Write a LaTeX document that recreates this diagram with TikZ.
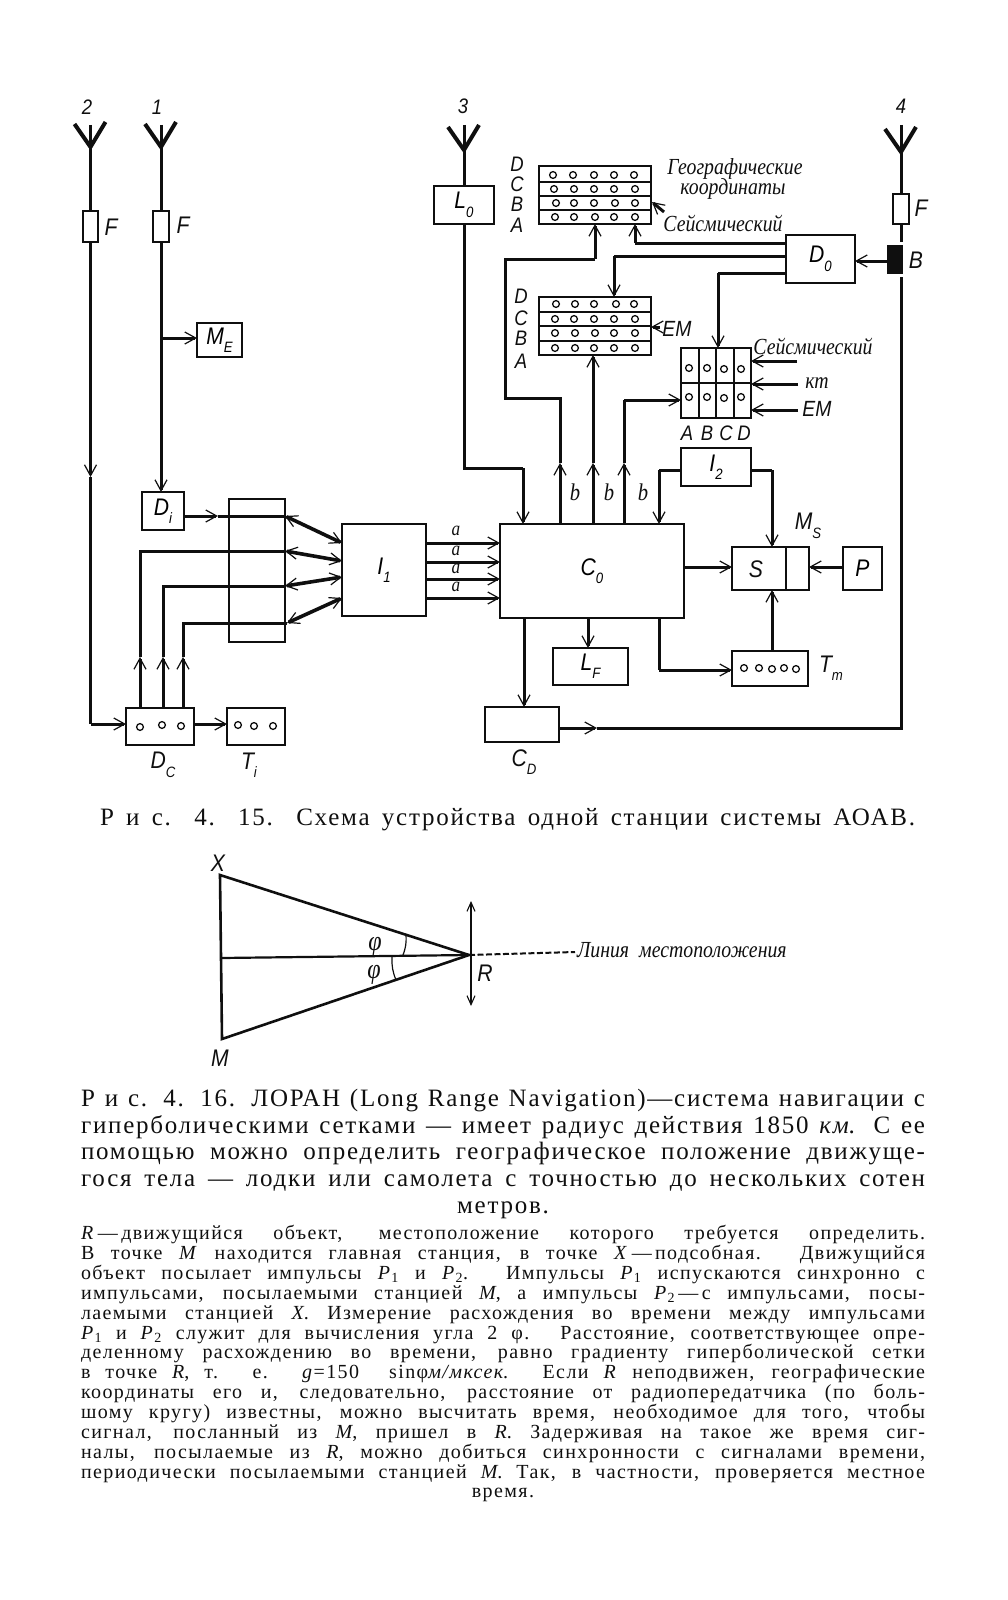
\documentclass[tikz,border=0pt]{standalone}
\usepackage{fontspec}
\setmainfont{Liberation Serif}
\newfontfamily\capfont[LetterSpace=7]{Liberation Serif}
\newfontfamily\lat[FakeStretch=0.88]{Liberation Sans}
\newfontfamily\cyr[FakeStretch=0.86]{Liberation Serif}
\usetikzlibrary{arrows.meta,calc}
\newcommand{\bx}[7][]{%
  \pgfmathsetmacro\cxx{(#3+#5)/2}\pgfmathsetmacro\cyy{(#4+#6)/2}%
  \pgfmathsetmacro\www{#5-#3}\pgfmathsetmacro\hhh{#6-#4}%
  \node[bxs,minimum width=\www pt,minimum height=\hhh pt,#1] (#2) at (\cxx,\cyy) {#7};}
\newcommand{\lbl}[5][]{\node[lab,#1] (#2) at (#3,#4) {#5};}
\newcommand{\sbs}[1]{\raisebox{-.35em}{\fontsize{15}{15}\selectfont #1}}
\newcommand{\antenna}[3]{%
  \coordinate (#1) at (#2,#3);
  \draw[wire] (#2,125) -- (#1);
  \draw[antw] ($(#1)+(-16,-23)$) -- (#1) -- ($(#1)+(15,-25)$);}
\newcommand{\jl}[1]{\hbox to \hsize{#1}}
\tikzset{
  bxs/.style={draw=ink,line width=2pt,inner sep=0pt,outer sep=0pt,fill=none,font=\lat\itshape\fontsize{24}{24}\selectfont},
  lab/.style={inner sep=0pt,outer sep=0pt,text=ink,font=\lat\itshape\fontsize{24}{24}\selectfont},
  cyrl/.style={font=\cyr\itshape\fontsize{23}{24}\selectfont},
  wire/.style={draw=ink,line width=3pt,line cap=butt,line join=miter},
  antw/.style={draw=ink,line width=4pt,line join=miter},
  thinl/.style={draw=ink,line width=1.7pt},
  tipa/.style={-{Straight Barb[length=11pt,width=12pt,line width=1.2pt]}},
  tipb/.style={{Straight Barb[length=11pt,width=12pt,line width=1.2pt]}-{Straight Barb[length=11pt,width=12pt,line width=1.2pt]}},
  dot/.style={draw=ink,line width=1.3pt},
  bodya/.style={anchor=north west,inner sep=0pt,outer sep=0pt,text=ink},
}
\definecolor{ink}{gray}{0.06}
\begin{document}
\begin{tikzpicture}[x=1pt,y=-1pt]
\useasboundingbox (0,0) rectangle (1007,1600);
% --- boxes
\bx{f2}{83}{211}{98}{242}{}
\bx{f1}{153}{211}{169}{242}{}
\bx{lo}{434}{186}{494}{224}{L\sbs{0}}
\bx{f4}{893}{194}{909}{224}{}
\bx{me}{197}{323}{242}{357}{M\sbs{E}}
\bx{di}{142}{492}{184}{530}{D\sbs{i}}
\bx{mx}{229}{499}{285}{642}{}
\bx{ione}{342}{524}{426}{616}{I\sbs{1}}
\bx{co}{500}{524}{684}{618}{C\sbs{0}}
\bx{itwo}{681}{448}{751}{486}{I\sbs{2}}
\bx{ss}{732}{547}{809}{590}{}
\bx{pp}{843}{547}{882}{590}{P}
\bx{tm}{732}{651}{808}{686}{}
\bx{lf}{553}{648}{628}{685}{L\sbs{F}}
\bx{cd}{485}{707}{559}{742}{}
\bx{dc}{126}{708}{194}{745}{}
\bx{ti}{227}{708}{285}{745}{}
\bx{dz}{786}{235}{855}{283}{D\sbs{0}}
\bx{tg}{539}{166}{651}{224}{}
\bx{te}{539}{297}{651}{355}{}
\bx{ts}{681}{348}{751}{418}{}
\bx[fill=ink]{bb}{888}{246}{902}{273}{}
% --- box interiors
\draw[thinl] (539,182)--(651,182) (539,196)--(651,196) (539,210)--(651,210);
\draw[thinl] (539,312)--(651,312) (539,326)--(651,326) (539,341)--(651,341);
\draw[thinl] (681,383)--(751,383) (699,348)--(699,418) (716,348)--(716,418) (734,348)--(734,418);
\draw[thinl] (786,547)--(786,590);
\foreach \yy/\ll in {175/{553,573,594,614,634},189/{554,574,594,614,635},203/{556,574,594,615,635},217/{555,574,595,614,635},
  304/{556,575,594,616,634},319/{555,574,594,614,635},333/{555,575,595,614,635},348/{555,575,594,614,635}}
  \foreach \xx in \ll \draw[dot] (\xx,\yy) circle (3.4);
\foreach \xx/\yy in {689/368,707/368,724/369,741/369,689/397,707/397,724/398,741/397,744/668,759/668,772/669,784/668,796/669,140/727,162/725,181/726,238/725,254/726,273/726}
  \draw[dot] (\xx,\yy) circle (3.4);
% --- antennas
\antenna{aa}{90.5}{147}
\antenna{ab}{161}{147}
\antenna{ac}{464}{150}
\antenna{ad}{901}{152}
% --- route coordinates
\coordinate (q1) at (90.5,477);
\coordinate (q2) at (90.5,724);
\coordinate (q3) at (161,338);
\coordinate (q4) at (464,468);
\coordinate (q5) at (523,468);
\coordinate (x2) at (140,0);
\coordinate (x3) at (163,0);
\coordinate (x4) at (183,0);
\coordinate (yb) at (0,657);
\coordinate (mxa) at (285,516);
\coordinate (mxb) at (285,551);
\coordinate (mxc) at (285,586);
\coordinate (mxd) at (287,623);
\coordinate (ia) at (342,543);
\coordinate (ib) at (342,561);
\coordinate (ic) at (342,577);
\coordinate (id) at (342,598);
\coordinate (xb1) at (560,0);
\coordinate (xb2) at (593,0);
\coordinate (xb3) at (624,0);
\coordinate (yt) at (0,463);
% --- left part
\draw[wire] (aa) -- (f2.north);
\draw[wire] (ab) -- (f1.north);
\draw[wire,tipa] (f2.south) -- (q1);
\draw[wire] (q1) -- (q2);
\draw[wire,tipa] (q2) -- (dc.west |- q2);
\draw[wire,tipa] (f1.south) -- (di.north -| f1.south);
\draw[wire,tipa] (q3) -- (me.west |- q3);
\draw[wire,tipa] (di.east |- mxa) -- (218,516);
\draw[wire] (218,516) -- (mxa);
\draw[wire,tipa] (dc.north -| x2) -- (yb -| x2);
\draw[wire,tipa] (dc.north -| x3) -- (yb -| x3);
\draw[wire,tipa] (dc.north -| x4) -- (yb -| x4);
\draw[wire] (yb -| x2) -- (x2 |- mxb) -- (mxb);
\draw[wire] (yb -| x3) -- (x3 |- mxc) -- (mxc);
\draw[wire] (yb -| x4) -- (x4 |- mxd) -- (mxd);
\draw[wire,line width=3.6pt,tipb] (mxa) -- (ia);
\draw[wire,line width=3.6pt,tipb] (mxb) -- (ib);
\draw[wire,line width=3.6pt,tipb] (mxc) -- (ic);
\draw[wire,line width=3.6pt,tipb] (mxd) -- (id);
\draw[wire,tipa] (dc.east |- q2) -- (ti.west |- q2);
\foreach \yy in {543,562,579,598}
  \draw[wire,tipa] (ione.east |- 0,\yy) -- (co.west |- 0,\yy);
% --- antenna 3
\draw[wire] (ac) -- (lo.north);
\draw[wire] (lo.south -| q4) -- (q4) -- (q5);
\draw[wire,tipa] (q5) -- (co.north -| q5);
% --- b lines
\draw[wire,tipa] (co.north -| xb1) -- (yt -| xb1);
\draw[wire,tipa] (co.north -| xb2) -- (yt -| xb2);
\draw[wire,tipa] (co.north -| xb3) -- (yt -| xb3);
\draw[wire] (yt -| xb1) -- (560,398) -- (505,398) -- (505,259) -- (595,259);
\draw[wire,tipa] (595,259) -- (tg.south -| 595,0);
\draw[wire,tipa] (yt -| xb2) -- (te.south -| xb2);
\draw[wire] (yt -| xb3) -- (624,400);
\draw[wire,tipa] (624,400) -- (ts.west |- 0,400);
% --- D0 and antenna 4
\draw[wire] (ad) -- (f4.north);
\draw[wire] (f4.south) -- (901,242);
\draw[wire,tipa] (bb.west |- 0,261) -- (dz.east |- 0,261);
\draw[wire] (dz.west |- 0,243) -- (635,243);
\draw[wire,tipa] (635,243) -- (tg.south -| 635,0);
\draw[wire] (dz.west |- 0,256) -- (614,256);
\draw[wire,tipa] (614,256) -- (te.north -| 614,0);
\draw[wire] (dz.west |- 0,273) -- (718,273);
\draw[wire,tipa] (718,273) -- (ts.north -| 718,0);
\draw[wire] (901,277) -- (901,728) -- (597,728);
\draw[wire,tipa] (cd.east |- 0,728) -- (597,728);
% --- side inputs
\coordinate (in1) at (797,361);
\coordinate (in2) at (798,384);
\coordinate (in3) at (798,410);
\coordinate (in4) at (660,327);
\coordinate (in5) at (664,212);
\draw[wire,tipa] (in1) -- (ts.east |- in1);
\draw[wire,tipa] (in2) -- (ts.east |- in2);
\draw[wire,tipa] (in3) -- (ts.east |- in3);
\draw[wire,tipa] (in4) -- (te.east |- in4);
\draw[wire,tipa] (in5) -- (652,202);
% --- right lower
\coordinate (yi) at (0,470);
\coordinate (xl) at (659,0);
\coordinate (xr) at (772,0);
\draw[wire] (itwo.west |- yi) -- (xl |- yi);
\draw[wire,tipa] (xl |- yi) -- (co.north -| xl);
\draw[wire] (itwo.east |- yi) -- (xr |- yi);
\draw[wire,tipa] (xr |- yi) -- (ss.north -| xr);
\draw[wire,tipa] (co.east |- 0,567) -- (ss.west |- 0,567);
\draw[wire,tipa] (pp.west |- 0,567) -- (ss.east |- 0,567);
\draw[wire,tipa] (tm.north -| xr) -- (ss.south -| xr);
\draw[wire,tipa] (co.south -| 588,0) -- (lf.north -| 588,0);
\draw[wire,tipa] (co.south -| 524,0) -- (cd.north -| 524,0);
\draw[wire] (co.south -| xl) -- (659,670);
\draw[wire,tipa] (659,670) -- (tm.west |- 0,670);
% --- labels
\lbl{n2}{87}{107}{\fontsize{21}{21}\selectfont 2}
\lbl{n1}{157}{107}{\fontsize{21}{21}\selectfont 1}
\lbl{n3}{463}{106}{\fontsize{21}{21}\selectfont 3}
\lbl{n4}{901}{106}{\fontsize{21}{21}\selectfont 4}
\lbl{lf2}{111}{227}{F}
\lbl{lf1}{183}{225}{F}
\lbl{lf4}{921}{208}{F}
\lbl{lb}{916}{260}{B}
\foreach \nn/\xx/\yy/\tt in {ga/517/164/D,gb/517/184/C,gc/517/204/B,gd/517/225/A,ha/521/296/D,hb/521/318/C,hc/521/338/B,hd/521/361/A,ja/687/433/A,jb/707/433/B,jc/726/433/C,jd/744/433/D}
  \node[lab,font=\lat\itshape\fontsize{21}{21}\selectfont] (\nn) at (\xx,\yy) {\tt};
\lbl[cyrl]{t1}{735}{169}{Географические}
\lbl[cyrl]{t2}{733}{189}{координаты}
\lbl[cyrl]{t3}{723}{223}{Сейсмический}
\lbl[font=\lat\itshape\fontsize{22}{22}\selectfont]{t4}{677}{329}{EM}
\lbl[cyrl]{t5}{813}{346}{Сейсмический}
\lbl[cyrl]{t6}{817}{383}{кт}
\lbl[font=\lat\itshape\fontsize{22}{22}\selectfont]{t7}{817}{409}{EM}
\foreach \nn/\yy in {aa1/531,aa2/551,aa3/569,aa4/587}
  \node[lab] (\nn) at (456,\yy) {\cyr\itshape\fontsize{20}{18}\selectfont a};
\foreach \nn/\xx in {bb1/575,bb2/609,bb3/643}
  \node[lab] (\nn) at (\xx,492) {\cyr\itshape b};
\lbl{lss}{756}{569}{S}
\lbl{lms}{808}{526}{M\sbs{S}}
\lbl{ltm}{831}{668}{T\sbs{m}}
\lbl{lcd}{524}{762}{C\sbs{D}}
\lbl{ldc}{163}{765}{D\sbs{C}}
\lbl{lti}{249}{765}{T\sbs{i}}
% --- caption 4.15
\node[bodya,font=\capfont\fontsize{25}{27}\selectfont] (capa) at (100,808)
  {\vbox{\hsize=815pt \jl{Р и с. 4. 15. Схема устройства одной станции системы АОАВ.}}};
% --- triangle
\coordinate (tx) at (220,875);
\coordinate (tm2) at (222,1039);
\coordinate (tr) at (469,955);
\coordinate (tc) at (221,958);
\coordinate (va) at (471,901);
\coordinate (vb) at (471,1006);
\coordinate (vc) at (575,952);
\draw[draw=ink,line width=2.6pt,line join=miter] (tr) -- (tx) -- (tm2) -- cycle;
\draw[draw=ink,line width=2.2pt] (tc) -- (tr);
\draw[draw=ink,line width=1.8pt,{Straight Barb[length=9pt,width=8pt,line width=1.1pt]}-{Straight Barb[length=9pt,width=8pt,line width=1.1pt]}] (va) -- (vb);
\draw[draw=ink,line width=2pt,dash pattern=on 6pt off 2.5pt] (tr) -- (vc);
\draw[draw=ink,line width=1.2pt] (406,935) to[bend left=12] (403,955);
\draw[draw=ink,line width=1.2pt] (392,957) to[bend right=12] (396,980);
\lbl{lx}{218}{863}{X}
\lbl{lm}{220}{1058}{M}
\lbl{lr}{485}{973}{R}
\lbl[font=\cyr\itshape\fontsize{28}{28}\selectfont]{lp1}{375}{947}{φ}
\lbl[font=\cyr\itshape\fontsize{28}{28}\selectfont]{lp2}{374}{975}{φ}
\node[lab,cyrl,anchor=west] (ll) at (577,950) {Линия\hspace{10pt}местоположения};
% --- caption 4.16
\node[bodya,font=\capfont\fontsize{25}{26.8}\selectfont] (capb) at (81,1089) {\vbox{\hsize=844pt
\jl{Р и с. 4. 16. ЛОРАН (Long Range Navigation)—система навигации с}
\jl{гиперболическими сетками — имеет радиус действия 1850 \textit{км}. С ее}
\jl{помощью можно определить географическое положение движуще-}
\jl{гося тела — лодки или самолета с точностью до нескольких сотен}
\jl{\hfil метров.\hfil}}};
% --- body text
\node[bodya,font=\capfont\fontsize{20}{19.85}\selectfont] (capc) at (81,1225.5) {\vbox{\hsize=844pt
\jl{\textit{R}\,—\,движущийся объект, местоположение которого требуется определить.}
\jl{В точке \textit{M} находится главная станция, в точке \textit{X}\,—\,подсобная. Движущийся}
\jl{объект посылает импульсы \textit{P}\textsubscript{1} и \textit{P}\textsubscript{2}. Импульсы \textit{P}\textsubscript{1} испускаются синхронно с}
\jl{импульсами, посылаемыми станцией \textit{M}, а импульсы \textit{P}\textsubscript{2}\,—\,с импульсами, посы-}
\jl{лаемыми станцией \textit{X}. Измерение расхождения во времени между импульсами}
\jl{\textit{P}\textsubscript{1} и \textit{P}\textsubscript{2} служит для вычисления угла 2 φ. Расстояние, соответствующее опре-}
\jl{деленному расхождению во времени, равно градиенту гиперболической сетки}
\jl{в точке \textit{R}, т. е. \textit{g}=150 \ sinφ\textit{м/мксек}. Если \textit{R} неподвижен, географические}
\jl{координаты его и, следовательно, расстояние от радиопередатчика (по боль-}
\jl{шому кругу) известны, можно высчитать время, необходимое для того, чтобы}
\jl{сигнал, посланный из \textit{M}, пришел в \textit{R}. Задерживая на такое же время сиг-}
\jl{налы, посылаемые из \textit{R}, можно добиться синхронности с сигналами времени,}
\jl{периодически посылаемыми станцией \textit{M}. Так, в частности, проверяется местное}
\jl{\hfil время.\hfil}}};
\end{tikzpicture}
\end{document}
